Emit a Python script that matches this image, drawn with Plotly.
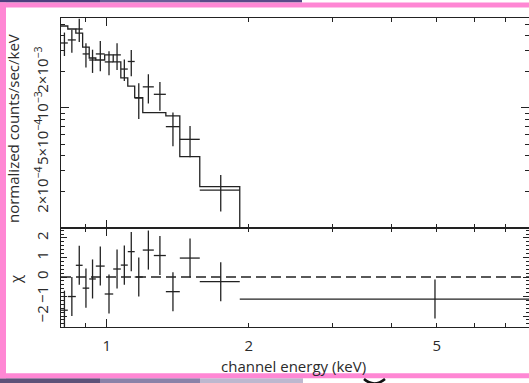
import math
import plotly.graph_objects as go

# ---------------- data ----------------
bin_lo = [0.800, 0.827, 0.860, 0.889, 0.918, 0.948, 0.990, 1.032, 1.071,
          1.108, 1.146, 1.192, 1.258, 1.334, 1.428, 1.574, 1.913]
bin_hi = [0.827, 0.860, 0.889, 0.918, 0.948, 0.990, 1.032, 1.071, 1.108,
          1.146, 1.192, 1.258, 1.334, 1.428, 1.574, 1.913, 8.0]
rate = [3.48e-3, 3.69e-3, 4.55e-3, 2.82e-3, 2.51e-3, 2.82e-3, 2.42e-3, 2.77e-3,
        2.11e-3, 2.44e-3, 1.21e-3, 1.50e-3, 1.30e-3, 0.699e-3, 0.548e-3,
        0.207e-3, 3.0e-5]
rate_err = [0.77e-3, 0.80e-3, 1.00e-3, 0.65e-3, 0.55e-3, 0.80e-3, 0.55e-3,
            0.70e-3, 0.43e-3, 0.60e-3, 0.40e-3, 0.41e-3, 0.35e-3, 0.22e-3,
            0.16e-3, 0.07e-3, 2.0e-5]
model = [4.82e-3, 4.55e-3, 4.21e-3, 3.22e-3, 2.61e-3, 2.51e-3, 2.77e-3, 2.42e-3,
         1.78e-3, 1.52e-3, 1.22e-3, 0.914e-3, 0.914e-3, 0.858e-3, 0.393e-3,
         0.221e-3, 4.5e-5]
chi = [-1.7, -1.0, 0.6, -0.57, -0.1, 0.56, -0.87, 0.41, 0.61, 1.3, 0.0, 1.38,
       1.1, -0.75, 0.97, -0.24, -1.13]
chi_err = [1, 1, 1, 1, 1, 1, 1, 1, 1, 1, 1, 1, 1, 1, 1, 1, 1]

x_tick_vals = [1, 2, 5]
x_tick_text = ["1", "2", "5"]
x_minor_vals = [0.9, 3, 4, 6, 7]
x_decade_vals = [1]
y_tick_vals = [2e-4, 5e-4, 1e-3, 2e-3, 5e-3]
y_tick_text = ["2×10<sup>−4</sup>", "5×10<sup>−4</sup>", "10<sup>−3</sup>",
               "2×10<sup>−3</sup>", "5×10<sup>−3</sup>"]
y_minor_vals = [3e-4, 4e-4, 6e-4, 7e-4, 8e-4, 9e-4, 3e-3, 4e-3]
y_decade_vals = [1e-3]
chi_tick_vals = [-2, -1, 0, 1, 2]
chi_tick_text = ["−2", "−1", "0", "1", "2"]

x_range = [0.8, 7.84]
y_range = [1e-4, 5.62e-3]
chi_range = [-2.56, 2.51]

# ---------------- derived ----------------
centers = [(a + b) / 2 for a, b in zip(bin_lo, bin_hi)]
xe_plus = [b - c for b, c in zip(bin_hi, centers)]
xe_minus = [c - a for a, c in zip(bin_lo, centers)]
step_x = bin_lo + [bin_hi[-1]]
step_y = model + [model[-1]]

INK = "#222222"
TXT = "#2b2b2b"
FONT = "Open Sans"
W, H = 529, 383
L, R, T, B = 61, 0, 18, 56
PW, PH = W - L - R, H - T - B
split = (H - B - 228) / PH


def px(x):
    return (x - L) / PW


def py(y):
    return (H - B - y) / PH


lxr = [math.log10(v) for v in x_range]
lyr = [math.log10(v) for v in y_range]

fig = go.Figure()
err_common = dict(type="data", symmetric=False, color=INK, thickness=1.3, width=0)
nomark = dict(size=1, color="rgba(0,0,0,0)", line=dict(width=0))

fig.add_trace(go.Scatter(
    x=centers, y=rate, mode="markers", marker=nomark,
    error_x=dict(array=xe_plus, arrayminus=xe_minus, **err_common),
    error_y=dict(array=rate_err, arrayminus=rate_err, **err_common),
    xaxis="x2", yaxis="y2", showlegend=False, hoverinfo="skip"))
fig.add_trace(go.Scatter(
    x=step_x, y=step_y, mode="lines", line=dict(color=INK, width=1.3, shape="hv"),
    xaxis="x2", yaxis="y2", showlegend=False, hoverinfo="skip"))
fig.add_trace(go.Scatter(
    x=centers, y=chi, mode="markers", marker=nomark,
    error_x=dict(array=xe_plus, arrayminus=xe_minus, **err_common),
    error_y=dict(array=chi_err, arrayminus=chi_err, **err_common),
    xaxis="x", yaxis="y", showlegend=False, hoverinfo="skip"))
# empty traces for overlay tick axes
fig.add_trace(go.Scatter(x=[], y=[], xaxis="x3", yaxis="y", showlegend=False))
fig.add_trace(go.Scatter(x=[], y=[], xaxis="x4", yaxis="y3", showlegend=False))

axline = dict(showline=True, linecolor=INK, linewidth=1.2, mirror="ticks",
              ticks="inside", tickcolor=INK, tickwidth=1.2, showgrid=False,
              zeroline=False)
tfont = dict(family=FONT, size=15, color=TXT)

fig.update_layout(
    width=W, height=H, margin=dict(l=L, r=R, t=T, b=B),
    paper_bgcolor="white", plot_bgcolor="white",
    xaxis=dict(domain=[0, 1], anchor="y", type="log", range=lxr,
               tickmode="array", tickvals=x_tick_vals, ticktext=x_tick_text,
               ticklen=4, tickfont=tfont, ticklabelstandoff=5,
               minor=dict(tickvals=x_minor_vals, ticks="inside", ticklen=4,
                          tickcolor=INK, tickwidth=1.2),
               **axline),
    xaxis3=dict(overlaying="x", anchor="y", type="log", range=lxr,
                tickmode="array", tickvals=x_decade_vals, ticklen=8,
                showticklabels=False, **axline),
    xaxis2=dict(domain=[0, 1], anchor="y2", type="log", range=lxr,
                tickmode="array", tickvals=x_tick_vals, showticklabels=False,
                ticklen=4,
                minor=dict(tickvals=x_minor_vals, ticks="inside", ticklen=4,
                           tickcolor=INK, tickwidth=1.2),
                **axline),
    xaxis4=dict(overlaying="x2", anchor="y3", type="log", range=lxr,
                tickmode="array", tickvals=x_decade_vals, ticklen=8,
                showticklabels=False, **axline),
    yaxis=dict(domain=[0, split], anchor="x", range=chi_range,
               tickmode="array", tickvals=chi_tick_vals, ticktext=chi_tick_text,
               ticklen=6, tickangle=-90, tickfont=tfont, ticklabelstandoff=6,
               minor=dict(dtick=0.2, tick0=0, ticks="inside", ticklen=3,
                          tickcolor=INK, tickwidth=1.2),
               **axline),
    yaxis2=dict(domain=[split, 1], anchor="x2", type="log", range=lyr,
                tickmode="array", tickvals=y_tick_vals, ticktext=y_tick_text,
                ticklen=4, tickangle=-90, tickfont=tfont, ticklabelstandoff=6,
                minor=dict(tickvals=y_minor_vals, ticks="inside", ticklen=4,
                           tickcolor=INK, tickwidth=1.2),
                **axline),
    yaxis3=dict(overlaying="y2", anchor="x2", type="log", range=lyr,
                tickmode="array", tickvals=y_decade_vals, ticklen=8,
                showticklabels=False, **axline),
)

# zero line of the residual panel
fig.add_shape(type="line", xref="x domain", yref="y", x0=0, x1=1, y0=0, y1=0,
              line=dict(color=INK, width=1.3, dash="10px,5px"))

# axis titles
fig.add_annotation(text="normalized counts/sec/keV", xref="paper", yref="paper",
                   x=px(13), y=py(129), textangle=-90, showarrow=False,
                   font=tfont, xanchor="center", yanchor="middle")
fig.add_annotation(text="χ", xref="paper", yref="paper", x=px(15), y=py(279),
                   textangle=-90, showarrow=False, font=tfont,
                   xanchor="center", yanchor="middle")
fig.add_annotation(text="channel energy (keV)", xref="paper", yref="paper",
                   x=px(293), y=py(366), showarrow=False, font=tfont,
                   xanchor="center", yanchor="middle")

# slide frame decorations
PINK = "#ff87d4"


def rect(x0, y0, x1, y1, color):
    fig.add_shape(type="rect", xref="paper", yref="paper", layer="above",
                  x0=px(x0), x1=px(x1), y0=py(y0), y1=py(y1),
                  fillcolor=color, line=dict(width=0))


rect(0, 0, 100, 2.6, "#4f3f7e")
rect(100, 0, 200, 2.6, "#6a5d98")
rect(200, 0, 302, 2.6, "#5a4a88")
rect(0, 378.3, 100, 383, "#5d5379")
rect(100, 378.3, 200, 383, "#8a82a8")
rect(200, 378.3, 303, 383, "#bdb8cf")
rect(0, 2.6, 529, 7.6, PINK)
rect(0, 2.6, 6, 378.3, PINK)
rect(0, 373.2, 529, 378.3, PINK)
fig.add_shape(type="path", xref="paper", yref="paper", layer="above",
              path=f"M {px(364)} {py(379)} Q {px(374)} {py(388)} {px(385)} {py(379)}",
              line=dict(color="#111111", width=2.5))

fig.write_html("out.html")
